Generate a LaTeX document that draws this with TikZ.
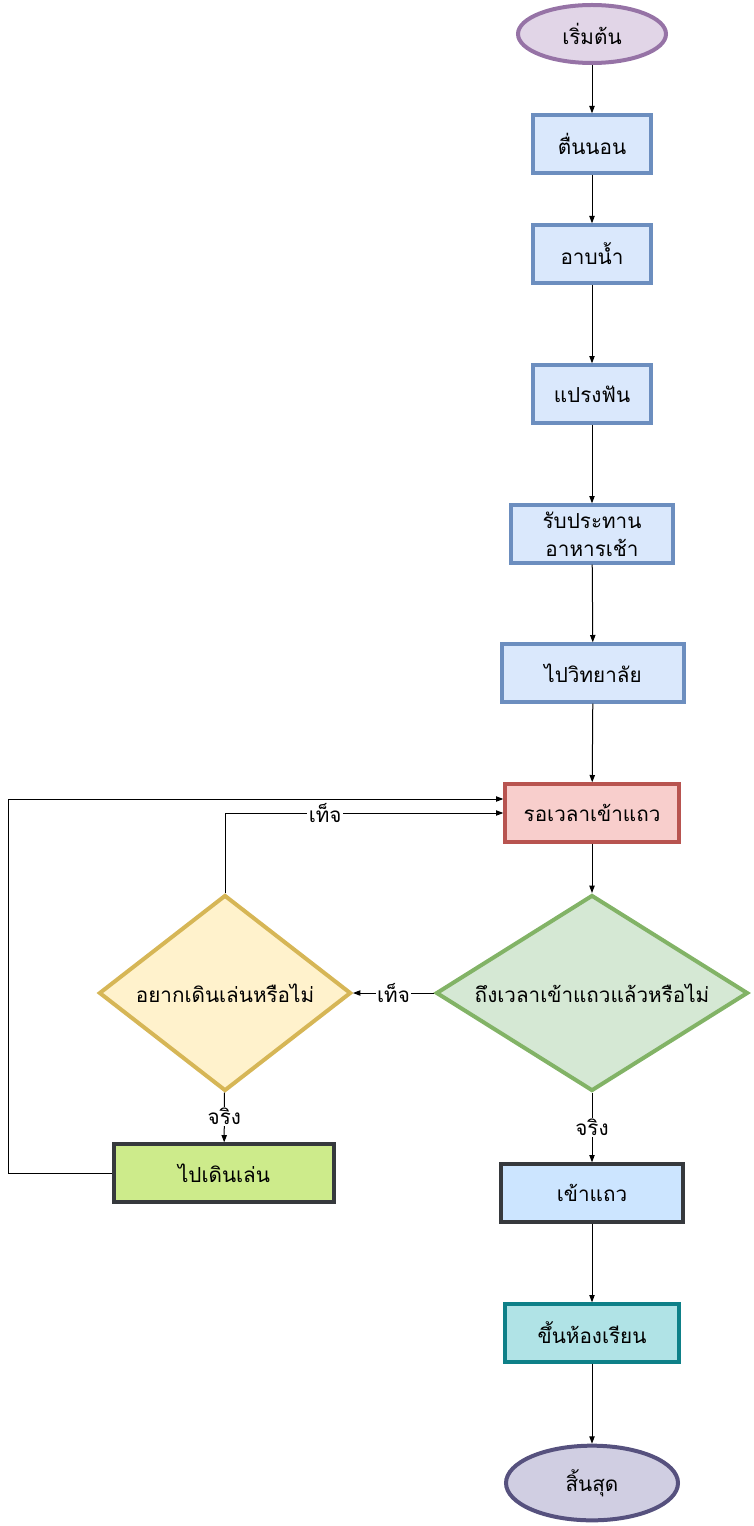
\documentclass[tikz,border=0pt]{standalone}
\usepackage{fontspec}
\newfontfamily\thaifont[Script=Thai]{Loma}
\usepackage{tikz}
\usetikzlibrary{shapes.geometric, arrows.meta}
\usepackage{xcolor}

\definecolor{startfill}{HTML}{E1D5E7}
\definecolor{startline}{HTML}{9673A6}
\definecolor{bluefill}{HTML}{DAE8FC}
\definecolor{blueline}{HTML}{6C8EBF}
\definecolor{redfill}{HTML}{F8CECC}
\definecolor{redline}{HTML}{B85450}
\definecolor{greenfill}{HTML}{D5E8D4}
\definecolor{greenline}{HTML}{82B366}
\definecolor{yellowfill}{HTML}{FFF2CC}
\definecolor{yellowline}{HTML}{D6B656}
\definecolor{limefill}{HTML}{CDEB8B}
\definecolor{darkline}{HTML}{36393D}
\definecolor{skyfill}{HTML}{CCE5FF}
\definecolor{tealfill}{HTML}{B0E3E6}
\definecolor{tealline}{HTML}{0E8088}
\definecolor{endfill}{HTML}{D0CEE2}
\definecolor{endline}{HTML}{56517E}

\begin{document}
\begin{tikzpicture}[x=0.75pt, y=-0.75pt, >={Stealth[inset=0pt,length=5.5pt,angle'=40]},
                line width=0.75pt, font=\thaifont\fontsize{15.5}{17}\selectfont,
                terminal/.style={ellipse, line width=3pt, inner sep=0pt},
                process/.style={rectangle, line width=3pt, inner sep=0pt, align=center,
                                minimum height=43pt},
                decision/.style={diamond, line width=3pt, inner sep=0pt, minimum height=147pt},
                lbl/.style={fill=white, inner sep=1pt}]

                \useasboundingbox (0,0) rectangle (753,1526);

                \node[terminal, draw=startline, fill=startfill, minimum width=111pt, minimum height=43.5pt] (start) at (592,34) {เริ่มต้น};
                \node[process, draw=blueline, fill=bluefill, minimum width=88.5pt] (wake) at (592,144) {ตื่นนอน};
                \node[process, draw=blueline, fill=bluefill, minimum width=88.5pt] (bath) at (592,254) {อาบน้ำ};
                \node[process, draw=blueline, fill=bluefill, minimum width=88.5pt] (brush) at (592,394) {แปรงฟัน};
                \node[process, draw=blueline, fill=bluefill, minimum width=121.5pt] (eat) at (592,534) {รับประทาน\\[4pt]อาหารเช้า};
                \node[process, draw=blueline, fill=bluefill, minimum width=136.5pt] (college) at (593,673) {ไปวิทยาลัย};
                \node[process, draw=redline, fill=redfill, minimum width=130pt] (wait) at (592,813) {รอเวลาเข้าแถว};
                \node[decision, draw=greenline, fill=greenfill, minimum width=234pt, shape aspect=1.58] (time) at (592,993) {ถึงเวลาเข้าแถวแล้วหรือไม่};
                \node[decision, draw=yellowline, fill=yellowfill, minimum width=189pt, shape aspect=1.28] (ask) at (225,993) {อยากเดินเล่นหรือไม่};
                \node[process, draw=darkline, fill=limefill, minimum width=165pt] (walk) at (224,1173) {ไปเดินเล่น};
                \node[process, draw=darkline, fill=skyfill, minimum width=136pt] (line) at (592,1193) {เข้าแถว};
                \node[process, draw=tealline, fill=tealfill, minimum width=130pt] (room) at (592,1333) {ขึ้นห้องเรียน};
                \node[terminal, draw=endline, fill=endfill, minimum width=129pt, minimum height=56pt] (finish) at (592,1483) {สิ้นสุด};

                \coordinate (side) at (8,799);

                \path[->]
                (start) edge (wake)
                (wake) edge (bath)
                (bath) edge (brush)
                (brush) edge (eat)
                (eat) edge (college)
                (college) edge (wait)
                (wait) edge (time)
                (time) edge node[lbl, pos=0.5] {เท็จ} (ask)
                (time) edge node[lbl, pos=0.5] {จริง} (line)
                (ask) edge node[lbl, pos=0.48] {จริง} (walk)
                (line) edge (room)
                (room) edge (finish);

                \draw[->] (ask.north) |- node[lbl, pos=0.68] {เท็จ} (wait.west);
                \draw[->] (walk.west) -| (side) -- (side -| wait.west);

            \end{tikzpicture}
\end{document}
